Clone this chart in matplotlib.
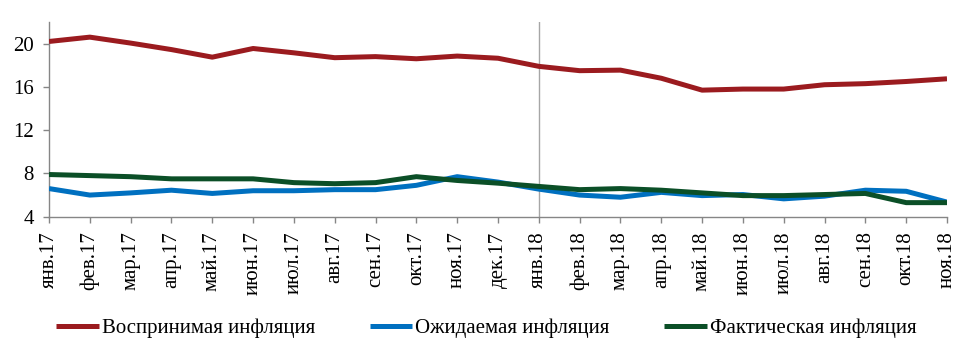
import matplotlib
matplotlib.use("Agg")
import matplotlib.pyplot as plt

months = ["янв.17", "фев.17", "мар.17", "апр.17", "май.17", "июн.17", "июл.17",
          "авг.17", "сен.17", "окт.17", "ноя.17", "дек.17", "янв.18", "фев.18",
          "мар.18", "апр.18", "май.18", "июн.18", "июл.18", "авг.18", "сен.18",
          "окт.18", "ноя.18"]
perceived = [20.2, 20.6, 20.05, 19.45, 18.75, 19.55, 19.15, 18.7, 18.8, 18.6, 18.85,
             18.65, 17.9, 17.5, 17.55, 16.8, 15.7, 15.8, 15.8, 16.2, 16.3, 16.5, 16.75]
expected = [6.6, 6.0, 6.2, 6.45, 6.15, 6.4, 6.4, 6.5, 6.5, 6.9, 7.7, 7.2, 6.55, 6.0,
            5.8, 6.25, 5.95, 6.05, 5.65, 5.9, 6.45, 6.35, 5.35]
actual = [7.9, 7.8, 7.7, 7.5, 7.5, 7.5, 7.15, 7.05, 7.15, 7.7, 7.35, 7.1, 6.8, 6.5,
          6.6, 6.45, 6.2, 5.95, 5.95, 6.05, 6.15, 5.3, 5.3]
series_names = ["Воспринимая инфляция", "Ожидаемая инфляция", "Фактическая инфляция"]
yticks = [4, 8, 12, 16, 20]
divider_label = "янв.18"

colors = ["#9B1B1F", "#0070C0", "#0B4F27"]
plt.rcParams['font.family'] = ['Liberation Serif', 'DejaVu Serif']

fig = plt.figure(figsize=(9.69, 3.55), dpi=100)
ax = fig.add_axes([49/969, (355-216.7)/355, (947-49)/969, (216.7-22)/355])

x = list(range(len(months)))
ax.axvline(months.index(divider_label), color="#A6A6A6", lw=1.0, zorder=1)
for vals, c, name in zip([perceived, expected, actual], colors, series_names):
    ax.plot(x, vals, color=c, lw=3.6, label=name, solid_joinstyle='round',
            solid_capstyle='butt', zorder=3)

ax.set_xlim(0, len(months) - 1)
ax.set_ylim(4, 22)
ax.set_yticks(yticks)
ax.set_yticklabels([str(v) for v in yticks])
ax.set_xticks(x)
ax.set_xticklabels(months, rotation=90, va='top', ha='center')

for s in ["top", "right"]:
    ax.spines[s].set_visible(False)
for s in ["left", "bottom"]:
    ax.spines[s].set_color("#868686")
    ax.spines[s].set_linewidth(1.0)
ax.tick_params(axis='both', colors="#868686", labelcolor="black", labelsize=15,
               direction='out', width=1.0)
ax.tick_params(axis='x', length=4.5, pad=6)
ax.tick_params(axis='y', length=4, pad=7)

leg = fig.legend(loc='center', bbox_to_anchor=(0.502, 27/355), ncol=3, frameon=False,
                 fontsize=15, handlelength=2.05, handletextpad=0.15,
                 columnspacing=2.6)

fig.savefig("out.png", dpi=100)
